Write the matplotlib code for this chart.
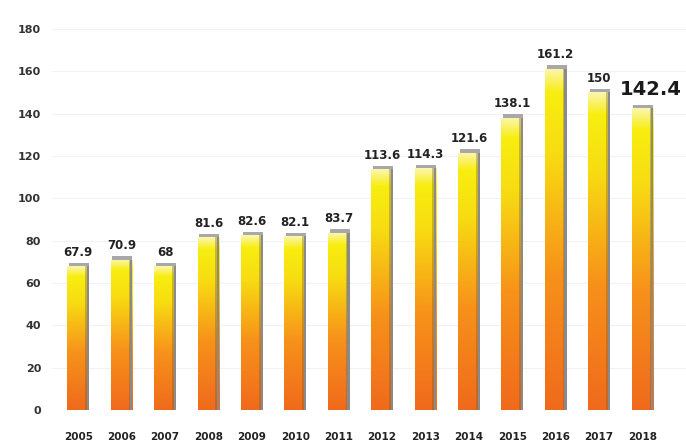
import numpy as np
import matplotlib
matplotlib.use("Agg")
import matplotlib.pyplot as plt
from matplotlib import colors
import matplotlib.patches as patches

years = ["2005", "2006", "2007", "2008", "2009", "2010", "2011",
         "2012", "2013", "2014", "2015", "2016", "2017", "2018"]
values = [67.9, 70.9, 68, 81.6, 82.6, 82.1, 83.7,
          113.6, 114.3, 121.6, 138.1, 161.2, 150, 142.4]
labels = ["67.9", "70.9", "68", "81.6", "82.6", "82.1", "83.7",
          "113.6", "114.3", "121.6", "138.1", "161.2", "150", "142.4"]
yticks = [0, 20, 40, 60, 80, 100, 120, 140, 160, 180]

fig = plt.figure(figsize=(6.86, 4.45), dpi=100)
ax = fig.add_axes([0.076, 0.079, 0.924, 0.856])

# yellow at the top of each bar, orange toward the bottom
grad = colors.LinearSegmentedColormap.from_list(
    "bar", [(0.0, "#f06a1c"), (0.4, "#f7921a"), (0.75, "#f7dc12"), (0.93, "#f8ee10"), (1.0, "#fbf6b0")])

w = 0.5
for i, v in enumerate(values):
    x0 = i - w / 2
    img = np.linspace(0, 1, 256).reshape(-1, 1)
    im = ax.imshow(img, cmap=grad, origin="lower", aspect="auto",
                   extent=[x0, x0 + w, 0, v], zorder=2)
    clip = patches.Rectangle((x0, 0), w, v, transform=ax.transData)
    im.set_clip_path(clip)
    # darker right side for the round look
    ax.add_patch(patches.Rectangle((x0 + w * 0.82, 0), w * 0.18, v,
                                   facecolor="#7a5a30", alpha=0.35, zorder=3, lw=0))
    ax.add_patch(patches.Rectangle((x0 + w * 0.9, 0), w * 0.1, v + 1.5,
                                   facecolor="#8a8a8a", zorder=3, lw=0))
    # grey cap
    ax.add_patch(patches.Rectangle((x0 + 0.04, v), w - 0.04, 1.6,
                                   facecolor="#a8a8a8", zorder=3, lw=0))
    if i == len(values) - 1:
        ax.text(i + 0.18, v + 4.5, labels[i], ha="center", va="bottom",
                fontsize=14, fontweight="bold", color="#1a1a1a")
    else:
        ax.text(i, v + 3.5, labels[i], ha="center", va="bottom",
                fontsize=8.5, fontweight="bold", color="#222222")

ax.set_xlim(-0.6, 14.0)
ax.set_ylim(0, 180)
ax.set_yticks(yticks)
ax.set_yticklabels([str(t) for t in yticks], fontsize=8, fontweight="bold", color="#333333")
ax.set_xticks(range(len(years)))
ax.set_xticklabels(years, fontsize=7.5, fontweight="bold", color="#222222")
ax.tick_params(length=0)
ax.tick_params(axis="y", pad=8)
ax.tick_params(axis="x", pad=16)
for t in yticks:
    ax.axhline(t, color="#f2f2f2", lw=0.8, zorder=0)
for s in ax.spines.values():
    s.set_visible(False)

fig.savefig("out.png", dpi=100)
